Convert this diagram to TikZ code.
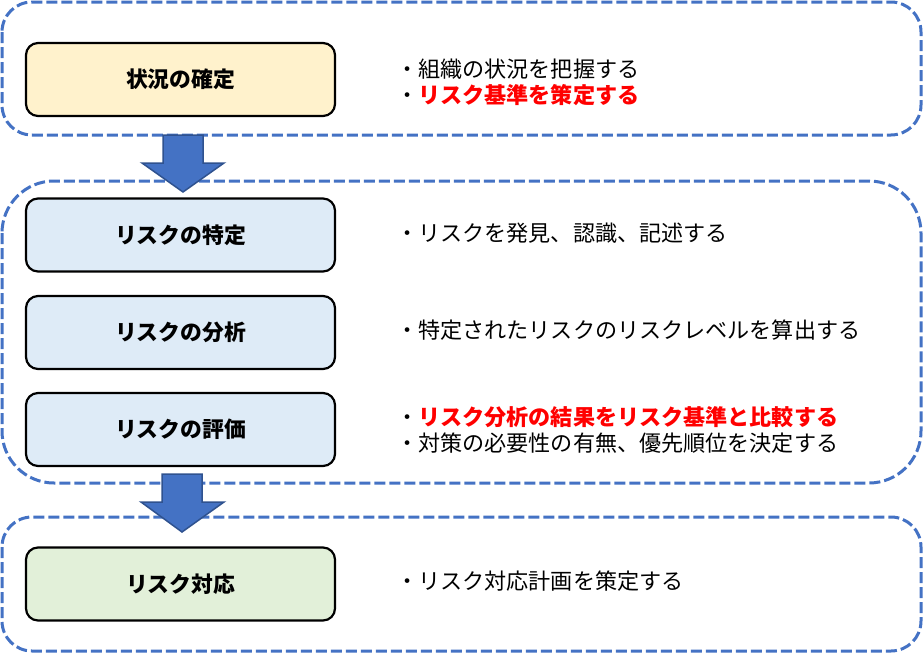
\documentclass[tikz,border=0pt]{standalone}
\usepackage{fontspec}
\setmainfont{Noto Sans CJK JP}
\definecolor{dashblue}{HTML}{4472C4}
\definecolor{arrowfill}{HTML}{4472C4}
\definecolor{arrowedge}{HTML}{2F528F}
\definecolor{boxyellow}{HTML}{FFF2CC}
\definecolor{boxblue}{HTML}{DEEBF7}
\definecolor{boxgreen}{HTML}{E2F0D9}
\definecolor{txtred}{HTML}{FF0000}
\begin{document}
\begin{tikzpicture}[x=1pt,y=-1pt,
  group/.style={draw=dashblue,line width=3pt,dash pattern=on 11pt off 4pt},
  stagebox/.style={draw=black,line width=2.2pt,rounded corners=12pt,minimum width=309pt,minimum height=73pt,inner sep=0pt,font=\fontsize{21.8}{26}\selectfont\bfseries},
  desc/.style={anchor=west,inner sep=0pt,font=\fontsize{22.1}{26}\selectfont},
  bigarrow/.style={fill=arrowfill,draw=arrowedge,line width=1.5pt,line join=miter}]
\useasboundingbox (0,0) rectangle (924,653);
% groups
\draw[group,rounded corners=30pt] (2,2) rectangle (921,135);
\draw[group,rounded corners=52pt] (2,181) rectangle (921,483);
\draw[group,rounded corners=30pt] (2,517) rectangle (921,651);
% stage boxes
\node[stagebox,fill=boxyellow] (s1) at (180.5,79.5) {状況の確定};
\node[stagebox,fill=boxblue] (s2) at (180.5,235) {リスクの特定};
\node[stagebox,fill=boxblue] (s3) at (180.5,332.5) {リスクの分析};
\node[stagebox,fill=boxblue] (s4) at (180.5,429.5) {リスクの評価};
\node[stagebox,fill=boxgreen] (s5) at (180.5,584) {リスク対応};
% arrows
\draw[bigarrow] (163,135) -- (203,135) -- (203,163) -- (224,163) -- (183,192) -- (142,163) -- (163,163) -- cycle;
\draw[bigarrow] (162,474) -- (202,474) -- (202,502) -- (224,502) -- (182,532) -- (141,502) -- (162,502) -- cycle;
% descriptions
\node[desc] (d1a) at (396,69) {・組織の状況を把握する};
\node[desc] (d1b) at (396,95) {・\textcolor{txtred}{\bfseries リスク基準を策定する}};
\node[desc] (d2) at (396,233) {・リスクを発見、認識、記述する};
\node[desc] (d3) at (396,330) {・特定されたリスクのリスクレベルを算出する};
\node[desc] (d4a) at (396,417) {・\textcolor{txtred}{\bfseries リスク分析の結果をリスク基準と比較する}};
\node[desc] (d4b) at (396,443) {・対策の必要性の有無、優先順位を決定する};
\node[desc] (d5) at (396,581) {・リスク対応計画を策定する};
\end{tikzpicture}
\end{document}
